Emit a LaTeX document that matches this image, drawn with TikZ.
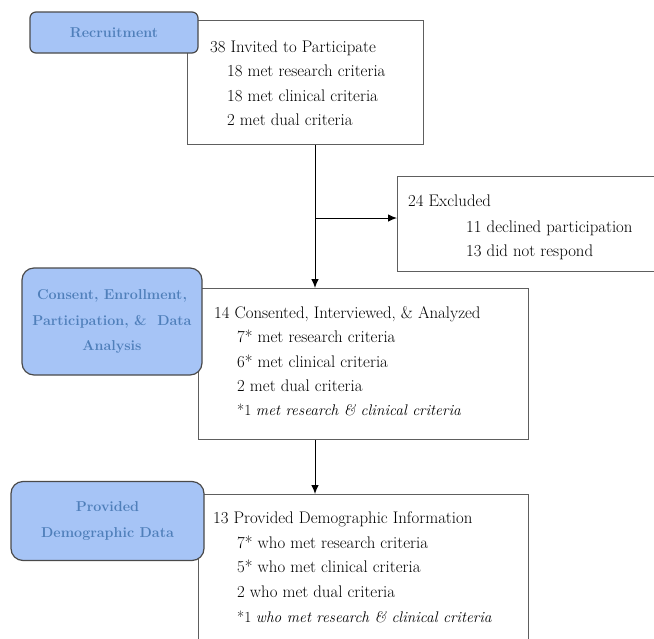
\documentclass[tikz,border=0pt]{standalone}
\usetikzlibrary{arrows.meta}
\definecolor{boxline}{HTML}{5E5E5E}
\definecolor{bluefill}{HTML}{A6C4F6}
\definecolor{blueline}{HTML}{4A4A4A}
\definecolor{bluetext}{HTML}{4F7FBA}
\tikzset{
  flowbox/.style={draw=boxline, line width=1.3pt, fill=white, anchor=north west, inner sep=0pt},
  stagebox/.style={draw=blueline, line width=1.2pt, fill=bluefill, rounded corners=#1, inner sep=0pt,
    align=center, text=bluetext, font=\fontsize{14.3}{25.5}\selectfont\bfseries},
  stagebox/.default=12pt,
  line/.style={anchor=base west, inner sep=0pt, font=\fontsize{16.8}{24.5}\selectfont},
  noteline/.style={anchor=base west, inner sep=0pt, font=\fontsize{15.4}{24.5}\selectfont},
  flowarrow/.style={draw=black, line width=1pt, -{Latex[length=9pt,width=7.5pt]}}
}
\begin{document}
\begin{tikzpicture}[x=1pt,y=-1pt]
\useasboundingbox (0,0) rectangle (654,638);
\clip (0,0) rectangle (654,638);
\fill[white] (0,0) rectangle (654,638);

% white boxes
\node[flowbox, minimum width=236pt, minimum height=124pt] (box1) at (187,20) {};
\node[flowbox, minimum width=320pt, minimum height=95pt] (excl) at (397,176) {};
\node[flowbox, minimum width=330pt, minimum height=151pt] (box2) at (198,288) {};
\node[flowbox, minimum width=330pt, minimum height=200pt] (box3) at (198,494) {};

% box 1 text
\node[line] (t11) at (210,52) {38 Invited to Participate};
\node[line] (t12) at (227,76) {18 met research criteria};
\node[line] (t13) at (227,101) {18 met clinical criteria};
\node[line] (t14) at (227,125) {2 met dual criteria};

% excluded text
\node[line] (te1) at (408,206) {24 Excluded};
\node[line] (te2) at (466,232) {11 declined participation};
\node[line] (te3) at (466,256) {13 did not respond};

% box 2 text
\node[line] (t21) at (214,318) {14 Consented, Interviewed, \& Analyzed};
\node[line] (t22) at (237,342) {7* met research criteria};
\node[line] (t23) at (237,367) {6* met clinical criteria};
\node[line] (t24) at (237,391) {2 met dual criteria};
\node[noteline] (t25) at (237,415) {*1 \textit{met research \& clinical criteria}};

% box 3 text
\node[line] (t31) at (213,523) {13 Provided Demographic Information};
\node[line] (t32) at (237,548) {7* who met research criteria};
\node[line] (t33) at (237,572) {5* who met clinical criteria};
\node[line] (t34) at (237,597) {2 who met dual criteria};
\node[noteline] (t35) at (237,622) {*1 \textit{who met research \& clinical criteria}};

% stage boxes
\node[stagebox=6pt, minimum width=168pt, minimum height=41pt] (s1) at (114,32.5) {Recruitment};
\node[stagebox, minimum width=180pt, minimum height=107pt] (s2) at (112,321.5)
  {Consent, Enrollment,\\Participation, \&\ \ Data\\Analysis};
\node[stagebox, minimum width=193pt, minimum height=79pt] (s3) at (107.5,521)
  {Provided\\Demographic Data};

% connectors
\coordinate (split) at (315,218);
\draw[flowarrow] (box1.south -| split) -- (box2.north -| split);
\draw[flowarrow] (split) -- (excl.west |- split);
\draw[flowarrow] (box2.south -| split) -- (box3.north -| split);
\end{tikzpicture}
\end{document}
